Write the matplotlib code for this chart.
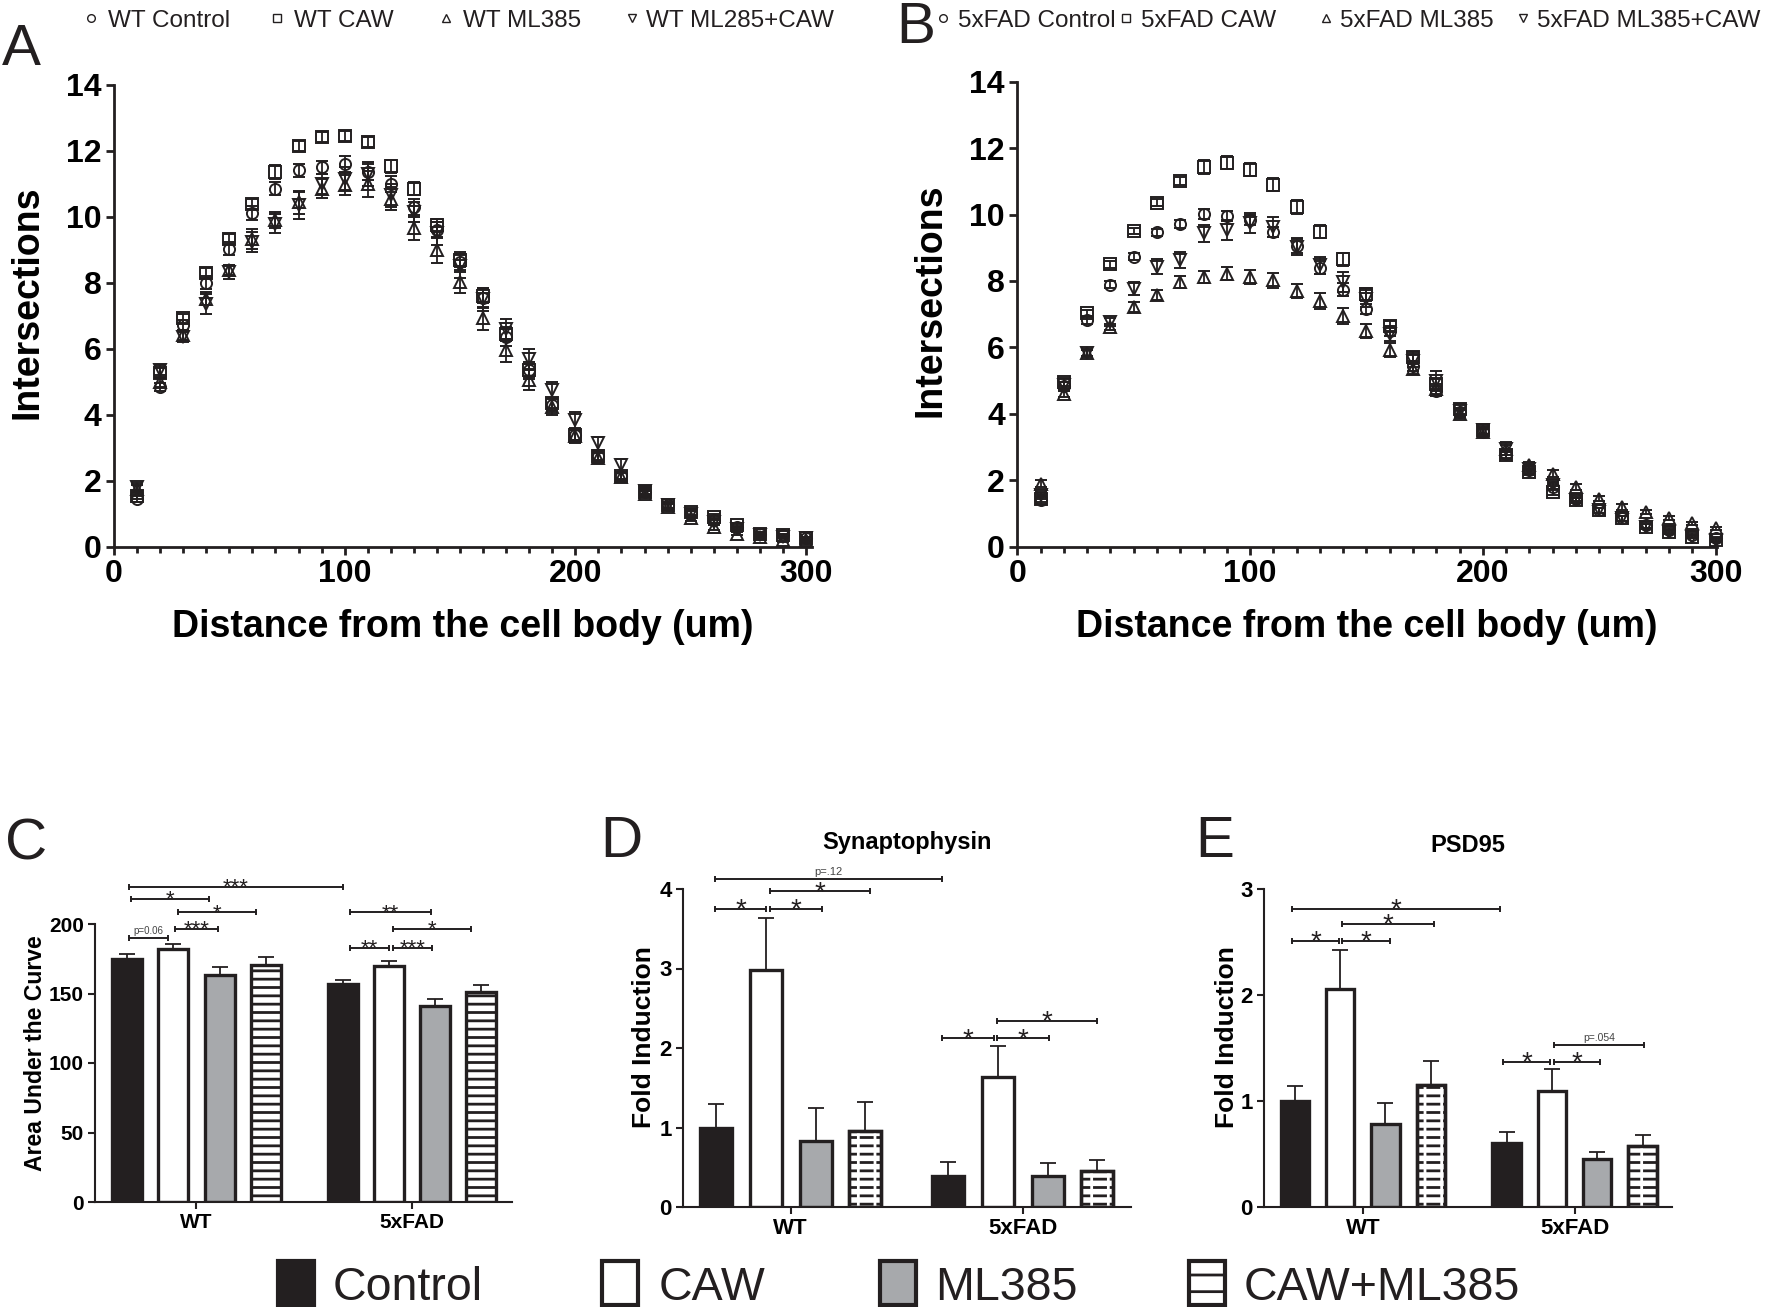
import numpy as np
import matplotlib
matplotlib.use('Agg')
import matplotlib.pyplot as plt
from matplotlib.patches import Rectangle
from matplotlib.ticker import MultipleLocator

plt.rcParams['font.family'] = ['Liberation Sans', 'DejaVu Sans']
plt.rcParams['hatch.linewidth'] = 2.0
INK = '#231f20'
GRAY = '#a7a9ac'

# ---------------- data ----------------
distance = [10, 20, 30, 40, 50, 60, 70, 80, 90, 100, 110, 120, 130, 140, 150,
            160, 170, 180, 190, 200, 210, 220, 230, 240, 250, 260, 270, 280, 290, 300]

wt_labels = ['WT Control', 'WT CAW', 'WT ML385', 'WT ML285+CAW']
wt_control = [1.45, 4.83, 6.72, 8.0, 9.04, 10.12, 10.86, 11.41, 11.5, 11.6, 11.36, 11.0, 10.3, 9.6, 8.64,
              7.55, 6.35, 5.35, 4.3, 3.4, 2.75, 2.15, 1.65, 1.25, 1.0, 0.8, 0.6, 0.4, 0.35, 0.25]
wt_caw = [1.55, 5.28, 6.92, 8.3, 9.34, 10.4, 11.36, 12.14, 12.42, 12.44, 12.27, 11.53, 10.86, 9.75, 8.69,
          7.6, 6.45, 5.35, 4.35, 3.4, 2.75, 2.15, 1.65, 1.25, 1.05, 0.9, 0.65, 0.4, 0.35, 0.25]
wt_ml385 = [1.75, 5.0, 6.41, 7.52, 8.4, 9.34, 9.9, 10.45, 10.86, 10.96, 11.0, 10.55, 9.65, 9.0, 8.03,
            6.92, 5.96, 5.05, 4.24, 3.35, 2.7, 2.1, 1.6, 1.2, 0.86, 0.6, 0.4, 0.3, 0.2, 0.2]
wt_ml_caw = [1.8, 5.35, 6.36, 7.37, 8.33, 9.24, 9.8, 10.35, 11.0, 11.16, 11.3, 10.65, 10.15, 9.5, 8.5,
             7.5, 6.6, 5.7, 4.75, 3.84, 3.13, 2.47, 1.7, 1.25, 1.0, 0.75, 0.55, 0.35, 0.3, 0.25]
wt_control_sem = [0.1, 0.12, 0.15, 0.2, 0.2, 0.2, 0.2, 0.2, 0.2, 0.25, 0.25, 0.25, 0.25, 0.25, 0.3,
                  0.3, 0.25, 0.25, 0.2, 0.15, 0.15, 0.12, 0.1, 0.1, 0.08, 0.08, 0.06, 0.05, 0.05, 0.05]
wt_caw_sem = [0.1, 0.15, 0.15, 0.15, 0.15, 0.15, 0.2, 0.15, 0.15, 0.15, 0.15, 0.2, 0.2, 0.2, 0.2,
              0.2, 0.2, 0.2, 0.15, 0.15, 0.12, 0.1, 0.1, 0.08, 0.08, 0.08, 0.06, 0.05, 0.05, 0.05]
wt_ml385_sem = [0.12, 0.15, 0.15, 0.2, 0.15, 0.3, 0.25, 0.35, 0.3, 0.3, 0.4, 0.35, 0.35, 0.4, 0.35,
                0.35, 0.35, 0.3, 0.25, 0.2, 0.15, 0.12, 0.1, 0.08, 0.08, 0.08, 0.06, 0.05, 0.05, 0.05]
wt_ml_caw_sem = [0.12, 0.15, 0.15, 0.3, 0.2, 0.3, 0.3, 0.4, 0.3, 0.35, 0.35, 0.35, 0.3, 0.35, 0.35,
                 0.35, 0.3, 0.3, 0.25, 0.25, 0.2, 0.2, 0.1, 0.08, 0.08, 0.08, 0.06, 0.05, 0.05, 0.05]

fad_labels = ['5xFAD Control', '5xFAD CAW', '5xFAD ML385', '5xFAD ML385+CAW']
fad_control = [1.4, 4.85, 6.82, 7.89, 8.73, 9.46, 9.73, 10.03, 9.97, 9.83, 9.48, 9.05, 8.4, 7.74, 7.17,
               6.5, 5.45, 4.7, 4.05, 3.45, 2.8, 2.3, 1.8, 1.45, 1.1, 0.85, 0.65, 0.5, 0.35, 0.25]
fad_caw = [1.45, 4.96, 7.04, 8.5, 9.5, 10.36, 11.0, 11.43, 11.56, 11.35, 10.9, 10.23, 9.48, 8.65, 7.6,
           6.65, 5.72, 4.9, 4.15, 3.5, 2.75, 2.25, 1.65, 1.4, 1.1, 0.85, 0.6, 0.45, 0.3, 0.2]
fad_ml385 = [1.9, 4.6, 5.82, 6.62, 7.22, 7.57, 7.97, 8.12, 8.22, 8.12, 8.02, 7.7, 7.4, 6.94, 6.5,
             5.92, 5.35, 4.75, 4.0, 3.45, 2.95, 2.45, 2.2, 1.8, 1.45, 1.2, 1.05, 0.85, 0.7, 0.55]
fad_ml_caw = [1.55, 4.86, 5.84, 6.77, 7.77, 8.43, 8.63, 9.43, 9.53, 9.75, 9.63, 9.03, 8.47, 7.97, 7.47,
              6.4, 5.6, 5.0, 4.1, 3.5, 2.95, 2.35, 1.85, 1.4, 1.1, 0.85, 0.6, 0.45, 0.3, 0.2]
fad_control_sem = [0.1, 0.1, 0.1, 0.1, 0.1, 0.1, 0.12, 0.15, 0.15, 0.15, 0.15, 0.2, 0.2, 0.2, 0.15,
                   0.15, 0.15, 0.15, 0.12, 0.12, 0.12, 0.1, 0.1, 0.08, 0.08, 0.08, 0.08, 0.06, 0.05, 0.05]
fad_caw_sem = [0.1, 0.12, 0.1, 0.1, 0.1, 0.1, 0.12, 0.2, 0.2, 0.2, 0.2, 0.22, 0.2, 0.2, 0.2,
               0.15, 0.15, 0.15, 0.15, 0.12, 0.1, 0.1, 0.1, 0.08, 0.08, 0.08, 0.08, 0.06, 0.05, 0.05]
fad_ml385_sem = [0.1, 0.1, 0.1, 0.1, 0.15, 0.15, 0.18, 0.18, 0.2, 0.2, 0.22, 0.22, 0.25, 0.25, 0.22,
                 0.2, 0.15, 0.15, 0.12, 0.1, 0.1, 0.1, 0.1, 0.08, 0.08, 0.08, 0.06, 0.06, 0.05, 0.05]
fad_ml_caw_sem = [0.1, 0.1, 0.1, 0.12, 0.2, 0.22, 0.25, 0.25, 0.3, 0.3, 0.3, 0.25, 0.25, 0.3, 0.25,
                  0.2, 0.2, 0.3, 0.2, 0.2, 0.2, 0.12, 0.1, 0.08, 0.08, 0.08, 0.08, 0.06, 0.05, 0.05]

genotypes = ['WT', '5xFAD']
treatments = ['Control', 'CAW', 'ML385', 'CAW+ML385']

auc_wt = [175, 182.2, 163.5, 170.2]
auc_fad = [156.5, 169.5, 141.3, 151]
auc_wt_sem = [3.6, 3.6, 5.5, 5.8]
auc_fad_sem = [2.9, 3.8, 4.7, 4.8]

syn_wt = [0.99, 2.98, 0.83, 0.96]
syn_fad = [0.39, 1.63, 0.39, 0.45]
syn_wt_sem = [0.30, 0.66, 0.42, 0.36]
syn_fad_sem = [0.18, 0.40, 0.16, 0.14]

psd_wt = [1.0, 2.06, 0.78, 1.15]
psd_fad = [0.60, 1.09, 0.45, 0.58]
psd_wt_sem = [0.14, 0.36, 0.20, 0.23]
psd_fad_sem = [0.11, 0.21, 0.07, 0.10]

# significance brackets: (x start, x end, height, label)
sig_auc = [(-1.47, 3.17, 226.7, '***'), (-1.42, 0.27, 218, '*'), (-0.4, 1.29, 208.4, '*'),
           (-0.46, 0.46, 196.4, '***'), (-1.46, -0.62, 190, 'p=0.06'), (3.33, 5.09, 208.4, '**'),
           (4.25, 5.96, 196.4, '*'), (3.33, 4.18, 183, '**'), (4.25, 5.11, 183, '***')]
sig_syn = [(-1.53, 3.05, 4.13, 'p=.12'), (-0.41, 1.59, 3.97, '*'), (-1.53, -0.49, 3.75, '*'),
           (-0.41, 0.63, 3.75, '*'), (3.05, 4.09, 2.12, '*'), (4.16, 5.20, 2.12, '*'),
           (4.16, 6.17, 2.34, '*')]
sig_psd = [(-1.56, 3.03, 2.81, '*'), (-0.46, 1.57, 2.67, '*'), (-1.56, -0.53, 2.51, '*'),
           (-0.46, 0.60, 2.51, '*'), (3.09, 4.13, 1.37, '*'), (4.21, 5.24, 1.37, '*'),
           (4.21, 6.2, 1.53, 'p=.054')]

# ---------------- figure ----------------
W, H = 1792, 1307
fig = plt.figure(figsize=(W / 100, H / 100), dpi=100)


def frac(x0, y0, x1, y1):
    return [x0 / W, 1 - y1 / H, (x1 - x0) / W, (y1 - y0) / H]


axA = fig.add_axes(frac(114, 85, 811.8, 546.7))
axB = fig.add_axes(frac(1017.3, 81.7, 1717, 546.7))
axC = fig.add_axes(frac(95, 924, 512, 1202))
axD = fig.add_axes(frac(683, 889, 1130.5, 1207))
axE = fig.add_axes(frac(1264, 889, 1672, 1207))

markers = ['o', 's', '^', 'v']


def sholl(ax, means, sems, xmax):
    for m, e, mk in zip(means, sems, markers):
        ax.errorbar(distance, m, yerr=e, fmt=mk, ms=8, mfc='none', mec=INK, mew=1.4,
                    ecolor=INK, elinewidth=1.3, capsize=4.5, capthick=1.3, zorder=3,
                    clip_on=False)
    ax.set_xlim(0, xmax)
    ax.set_ylim(0, 14)
    ax.set_xticks([0, 100, 200, 300])
    ax.xaxis.set_minor_locator(MultipleLocator(10))
    ax.set_yticks(range(0, 15, 2))
    for s in ['top', 'right']:
        ax.spines[s].set_visible(False)
    for s in ['left', 'bottom']:
        ax.spines[s].set_linewidth(2)
        ax.spines[s].set_color(INK)
    ax.tick_params(which='major', length=6, width=2, labelsize=23, pad=3, color=INK)
    ax.tick_params(which='minor', length=4, width=2, color=INK)
    for lab in ax.get_xticklabels() + ax.get_yticklabels():
        lab.set_fontweight('bold')
    ax.set_xlabel('Distance from the cell body (um)', fontsize=27, fontweight='bold')
    ax.set_ylabel('Intersections', fontsize=27, fontweight='bold')
    ax.xaxis.set_label_coords(0.5, -0.135)
    ax.yaxis.set_label_coords(-0.098, 0.53)


sholl(axA, [wt_control, wt_caw, wt_ml385, wt_ml_caw],
      [wt_control_sem, wt_caw_sem, wt_ml385_sem, wt_ml_caw_sem], 302.5)
sholl(axB, [fad_control, fad_caw, fad_ml385, fad_ml_caw],
      [fad_control_sem, fad_caw_sem, fad_ml385_sem, fad_ml_caw_sem], 300.6)

offsets = np.array([-1.5, -0.5, 0.5, 1.5])
group_x = [0.0, 4.67]
fills = [INK, 'white', GRAY, 'white']


def bracket(ax, x1, x2, y, label, star_fs, p_fs):
    ax.plot([x1, x2], [y, y], color=INK, lw=1.4, marker='|', ms=5, mew=1.4,
            clip_on=False, zorder=4)
    xm = (x1 + x2) / 2
    if label.startswith('p'):
        ax.annotate(label, (xm, y), xytext=(0, 1.5), textcoords='offset points',
                    ha='center', va='bottom', fontsize=p_fs, color='#444444',
                    annotation_clip=False)
    else:
        ax.annotate(label, (xm, y), xytext=(0, -0.3 * star_fs), textcoords='offset points',
                    ha='center', va='baseline', fontsize=star_fs, color=INK,
                    annotation_clip=False)


def barpanel(ax, wt, fad, wt_e, fad_e, width, dashed, xlim, ylim, yticks, sig,
             star_fs, p_fs, tick_fs, ylabel, ylab_fs, ylab_x, title=None, title_pad=0):
    for gx, vals, errs in zip(group_x, [wt, fad], [wt_e, fad_e]):
        xs = gx + offsets
        ax.errorbar(xs, vals, yerr=[np.zeros(len(errs)), errs], fmt='none', ecolor=INK,
                    elinewidth=1.3, capsize=6, capthick=1.3, zorder=1)
        for i, (x, v) in enumerate(zip(xs, vals)):
            hatch = '--' if i == 3 else None
            ax.bar(x, v, width, color=fills[i], edgecolor=INK, linewidth=2.4,
                   hatch=hatch, zorder=2)
            if i == 3 and dashed:
                ax.bar(x, v, width, color='none', edgecolor='white', linewidth=0,
                       hatch='|', zorder=2.1)
                ax.bar(x, v, width, color='none', edgecolor=INK, linewidth=2.4, zorder=2.2)
    for (x1, x2, y, lab) in sig:
        bracket(ax, x1, x2, y, lab, star_fs, p_fs)
    ax.set_xlim(*xlim)
    ax.set_ylim(*ylim)
    ax.set_yticks(yticks)
    ax.set_xticks(group_x)
    ax.set_xticklabels(genotypes)
    for s in ['top', 'right']:
        ax.spines[s].set_visible(False)
    for s in ['left', 'bottom']:
        ax.spines[s].set_linewidth(1.5)
        ax.spines[s].set_color(INK)
    ax.tick_params(length=5, width=1.5, labelsize=tick_fs, pad=3, color=INK)
    for lab in ax.get_xticklabels() + ax.get_yticklabels():
        lab.set_fontweight('bold')
    ax.set_ylabel(ylabel, fontsize=ylab_fs, fontweight='bold')
    ax.yaxis.set_label_coords(ylab_x, 0.535)
    if title:
        ax.set_title(title, fontsize=17, fontweight='bold', pad=title_pad)


barpanel(axC, auc_wt, auc_fad, auc_wt_sem, auc_fad_sem, 0.65, False, (-2.2, 6.84), (0, 200),
         [0, 50, 100, 150, 200], sig_auc, 16, 7, 15, 'Area Under the Curve', 16.6, -0.115)
barpanel(axD, syn_wt, syn_fad, syn_wt_sem, syn_fad_sem, 0.645, True, (-2.17, 6.84), (0, 4),
         [0, 1, 2, 3, 4], sig_syn, 20, 8, 16, 'Fold Induction', 19, -0.061,
         title='Synaptophysin', title_pad=29)
barpanel(axE, psd_wt, psd_fad, psd_wt_sem, psd_fad_sem, 0.625, True, (-2.18, 6.82), (0, 3),
         [0, 1, 2, 3], sig_psd, 20, 7.5, 16, 'Fold Induction', 19, -0.0625,
         title='PSD95', title_pad=27)

# ---------------- overlay: panel letters and legends ----------------
ov = fig.add_axes([0, 0, 1, 1])
ov.set_xlim(0, W)
ov.set_ylim(H, 0)
ov.axis('off')

for letter, lx, ly in [('A', 2, 65), ('B', 896, 43), ('C', 5, 859), ('D', 600, 857), ('E', 1195, 857)]:
    ov.text(lx, ly, letter, fontsize=42, ha='left', va='baseline', color=INK)

legA_mk = [91, 277, 446, 632]
legA_tx = [108, 294, 463, 646]
legB_mk = [943, 1126, 1326, 1523]
legB_tx = [958, 1141, 1340, 1537]
for labels, mks, txs in [(wt_labels, legA_mk, legA_tx), (fad_labels, legB_mk, legB_tx)]:
    for lab, mx, tx, mk in zip(labels, mks, txs, markers):
        ov.plot([mx], [18], marker=mk, ms=5.5, mfc='none', mec=INK, mew=1.0, ls='none')
        ov.text(tx, 27, lab, fontsize=17.5, ha='left', va='baseline', color=INK)

sw_x = [278, 602, 880, 1189]
tx_x = [333, 659, 935, 1244]
for i, (lab, sx, tx) in enumerate(zip(treatments, sw_x, tx_x)):
    ov.add_patch(Rectangle((sx, 1261), 36, 44, facecolor=fills[i], edgecolor=INK,
                           linewidth=3, hatch='-' if i == 3 else None))
    ov.text(tx, 1300, lab, fontsize=33.5, ha='left', va='baseline', color=INK)

fig.savefig('out.png', dpi=100)
